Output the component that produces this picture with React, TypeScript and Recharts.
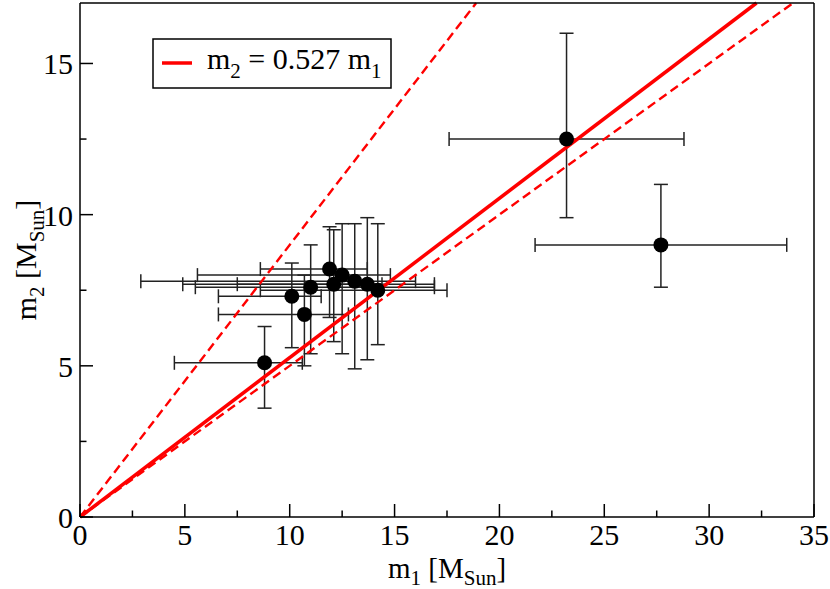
import React from "react";
import { ScatterChart, Scatter, XAxis, YAxis, ErrorBar, ReferenceLine, Legend } from "recharts";

// primary masses, with lower/upper bounds of the error bars
const m1 = [8.8, 10.1, 10.7, 11.0, 11.9, 12.1, 12.5, 13.1, 13.7, 14.2, 23.2, 27.7];
const m1Low = [4.5, 6.6, 6.6, 5.5, 8.6, 7.5, 5.6, 2.9, 4.9, 8.6, 17.6, 21.7];
const m1High = [10.6, 11.5, 12.8, 16.9, 13.7, 14.4, 14.8, 16.0, 16.9, 17.5, 28.8, 33.7];

// secondary masses
const m2 = [5.1, 7.3, 6.7, 7.6, 8.2, 7.7, 8.0, 7.8, 7.7, 7.5, 12.5, 9.0];
const m2Low = [3.6, 5.6, 5.0, 5.4, 6.6, 5.8, 5.4, 4.9, 5.2, 5.7, 9.9, 7.6];
const m2High = [6.3, 8.4, 8.0, 9.0, 9.6, 9.5, 9.7, 9.7, 9.9, 9.7, 16.0, 11.0];

const fitSlope = 0.527;
const boundSlopes = [0.9, 0.5];

const xTicks = [0, 2.5, 5, 7.5, 10, 12.5, 15, 17.5, 20, 22.5, 25, 27.5, 30, 32.5, 35];
const yTicks = [0, 2.5, 5, 7.5, 10, 12.5, 15];
const X_MAX = 35;
const Y_MAX = 17;

const FONT = "Liberation Serif";
const FS = 30;
const SUB = 21;
const MAJOR = 13;
const MINOR = 6.5;

const points = m1.map((x, i) => ({
  x,
  y: m2[i],
  ex: [x - m1Low[i], m1High[i] - x],
  ey: [m2[i] - m2Low[i], m2High[i] - m2[i]],
}));

const lineEnd = (s: number) => {
  const x = Math.min(X_MAX, Y_MAX / s);
  return [{ x: 0, y: 0 }, { x, y: s * x }];
};

const isMajor = (v: number) => v % 5 === 0;

const BottomTick = ({ x, y, payload }: any) => (
  <g>
    <line x1={x} y1={y} x2={x} y2={y - (isMajor(payload.value) ? MAJOR : MINOR)} stroke="#000" strokeWidth={1.5} />
    {isMajor(payload.value) && (
      <text x={x} y={y + 28} textAnchor="middle" fontFamily={FONT} fontSize={FS} fill="#000">
        {payload.value}
      </text>
    )}
  </g>
);

const TopTick = ({ x, y, payload }: any) => (
  <line x1={x} y1={y} x2={x} y2={y + (isMajor(payload.value) ? MAJOR : MINOR)} stroke="#000" strokeWidth={1.5} />
);

const LeftTick = ({ x, y, payload }: any) => (
  <g>
    <line x1={x} y1={y} x2={x + (isMajor(payload.value) ? MAJOR : MINOR)} y2={y} stroke="#000" strokeWidth={1.5} />
    {isMajor(payload.value) && (
      <text x={x - 7} y={y + 11} textAnchor="end" fontFamily={FONT} fontSize={FS} fill="#000">
        {payload.value}
      </text>
    )}
  </g>
);

const RightTick = ({ x, y, payload }: any) => (
  <line x1={x} y1={y} x2={x - (isMajor(payload.value) ? MAJOR : MINOR)} y2={y} stroke="#000" strokeWidth={1.5} />
);

const XTitle = ({ viewBox }: any) => (
  <text x={viewBox.x + viewBox.width / 2} y={578} textAnchor="middle" fontFamily={FONT} fontSize={29} fill="#000">
    m<tspan fontSize={SUB} dy={7}>1</tspan>
    <tspan dy={-7}> [M</tspan>
    <tspan fontSize={SUB} dy={7}>Sun</tspan>
    <tspan dy={-7}>]</tspan>
  </text>
);

const YTitle = ({ viewBox }: any) => {
  const cx = 36;
  const cy = viewBox.y + viewBox.height / 2;
  return (
    <text x={cx} y={cy} transform={`rotate(-90 ${cx} ${cy})`} textAnchor="middle" fontFamily={FONT} fontSize={FS} fill="#000">
      m<tspan fontSize={SUB} dy={8}>2</tspan>
      <tspan dy={-8}> [M</tspan>
      <tspan fontSize={SUB} dy={8}>Sun</tspan>
      <tspan dy={-8}>]</tspan>
    </text>
  );
};

const renderLegend = () => (
  <svg width={240} height={51} style={{ display: "block" }}>
    <rect x={1} y={1} width={238} height={49} fill="#fff" stroke="#000" strokeWidth={1.5} />
    <line x1={10} y1={25} x2={40} y2={25} stroke="#ff0000" strokeWidth={3.5} />
    <text x={55} y={31} fontFamily={FONT} fontSize={FS} fill="#000">
      m<tspan fontSize={SUB} dy={9}>2</tspan>
      <tspan dy={-9}> = {fitSlope} m</tspan>
      <tspan fontSize={SUB} dy={9}>1</tspan>
    </text>
  </svg>
);

const Dot = ({ cx, cy }: any) => <circle cx={cx} cy={cy} r={7.5} fill="#000" />;

export default function App() {
  return (
    <div style={{ position: "absolute", left: 0, top: 0, background: "#fff" }}>
      <ScatterChart width={830} height={589} margin={{ top: 2, right: 15, bottom: 0, left: 8 }}>
        <XAxis
          xAxisId="b"
          type="number"
          dataKey="x"
          domain={[0, X_MAX]}
          ticks={xTicks}
          interval={0}
          height={72}
          tickSize={0}
          tickMargin={0}
          tickLine={false}
          tick={<BottomTick />}
          axisLine={{ stroke: "#000", strokeWidth: 1.5 }}
          label={{ content: <XTitle /> }}
        />
        <XAxis
          xAxisId="t"
          orientation="top"
          type="number"
          domain={[0, X_MAX]}
          ticks={xTicks}
          interval={0}
          height={1}
          tickSize={0}
          tickMargin={0}
          tickLine={false}
          tick={<TopTick />}
          axisLine={{ stroke: "#000", strokeWidth: 1.5 }}
        />
        <YAxis
          yAxisId="l"
          type="number"
          dataKey="y"
          domain={[0, Y_MAX]}
          ticks={yTicks}
          interval={0}
          width={72}
          tickSize={0}
          tickMargin={0}
          tickLine={false}
          tick={<LeftTick />}
          axisLine={{ stroke: "#000", strokeWidth: 1.5 }}
          label={{ content: <YTitle /> }}
        />
        <YAxis
          yAxisId="r"
          orientation="right"
          type="number"
          domain={[0, Y_MAX]}
          ticks={yTicks}
          interval={0}
          width={1}
          tickSize={0}
          tickMargin={0}
          tickLine={false}
          tick={<RightTick />}
          axisLine={{ stroke: "#000", strokeWidth: 1.5 }}
        />
        <Legend
          verticalAlign="middle"
          align="center"
          content={renderLegend}
          wrapperStyle={{ left: 152, top: 38, right: "auto", bottom: "auto", width: "auto" }}
        />
        <Scatter xAxisId="b" yAxisId="l" data={points} shape={<Dot />} isAnimationActive={false}>
          <ErrorBar dataKey="ex" direction="x" width={7} stroke="#222" strokeWidth={1.5} isAnimationActive={false} />
          <ErrorBar dataKey="ey" direction="y" width={7} stroke="#222" strokeWidth={1.5} isAnimationActive={false} />
        </Scatter>
        {boundSlopes.map((s) => (
          <ReferenceLine
            key={s}
            xAxisId="b"
            yAxisId="l"
            segment={lineEnd(s)}
            stroke="#ff0000"
            strokeWidth={2.4}
            strokeDasharray="9 5"
            ifOverflow="visible"
          />
        ))}
        <ReferenceLine
          xAxisId="b"
          yAxisId="l"
          segment={lineEnd(fitSlope)}
          stroke="#ff0000"
          strokeWidth={3.5}
          ifOverflow="visible"
        />
      </ScatterChart>
    </div>
  );
}
